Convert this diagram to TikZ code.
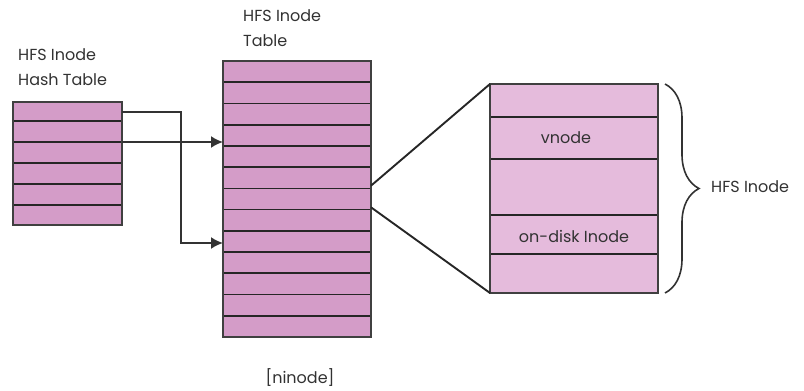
\documentclass[tikz,border=0pt]{standalone}
\usepackage{fontspec}
\setmainfont{Poppins}
\usetikzlibrary{arrows.meta,decorations.pathreplacing}
\definecolor{tablepink}{RGB}{212,156,200}
\definecolor{inodepink}{RGB}{229,187,220}
\definecolor{inkgray}{RGB}{50,50,50}
\begin{document}
\begin{tikzpicture}[x=1pt,y=-1pt,
        lbl/.style={font=\fontsize{16}{25}\selectfont, text=inkgray, inner sep=0pt, align=left},
        rowline/.style={line width=1.7pt, black!85},
        frame/.style={line width=2pt, black!75},
        ptr/.style={line width=1.9pt, black!80, -{Latex[length=12pt,width=12pt]}}]
    \useasboundingbox (0,0) rectangle (804,391);
    % hash table
    \fill[tablepink] (13,102) rectangle (122,225);
    \foreach \y in {121,142,163,184,205} \draw[rowline] (13,\y) -- (122,\y);
    \draw[frame] (13,102) rectangle (122,225);
    \node[lbl, anchor=west] (hashlbl) at (18,67.5) {HFS Inode\\Hash Table};
    % inode table, 13 rows
    \fill[tablepink] (223,61) rectangle (371,337);
    \foreach \i in {1,...,12} \draw[rowline] (223,{61+\i*21.23}) -- (371,{61+\i*21.23});
    \draw[frame] (223,61) rectangle (371,337);
    \node[lbl, anchor=west] (tablelbl) at (243,28) {HFS Inode\\Table};
    \node[lbl] (ninode) at (300,378) {[ninode]};
    % one inode
    \fill[inodepink] (490,84) rectangle (658,293);
    \foreach \y in {117,159,215,254} \draw[rowline] (490,\y) -- (658,\y);
    \draw[frame] (490,84) rectangle (658,293);
    \node[lbl] (vnode) at (566,138) {vnode};
    \node[lbl] (ondisk) at (574,236) {on-disk Inode};
    % pointers
    \coordinate (h1) at (122,112);
    \coordinate (h3) at (122,142);
    \coordinate (t5) at (223,142);
    \coordinate (bend) at (181,243);
    \coordinate (t9) at (223,243);
    \draw[ptr] (h3) -- (t5);
    \draw[ptr] (h1) -| (bend) -- (t9);
    % zoom lines
    \coordinate (z1) at (371,185.7);
    \coordinate (z2) at (371,207.3);
    \coordinate (d1) at (490,84);
    \coordinate (d2) at (490,293);
    \draw[line width=1.9pt, black!85] (z1) -- (d1) (z2) -- (d2);
    % brace
    \coordinate (b1) at (665,84);
    \coordinate (b2) at (665,293);
    \draw[line width=1.6pt, inkgray, decorate, decoration={brace, amplitude=34pt}] (b1) -- (b2);
    \node[lbl, anchor=west] (inodelbl) at (711,187) {HFS Inode};
\end{tikzpicture}
\end{document}
